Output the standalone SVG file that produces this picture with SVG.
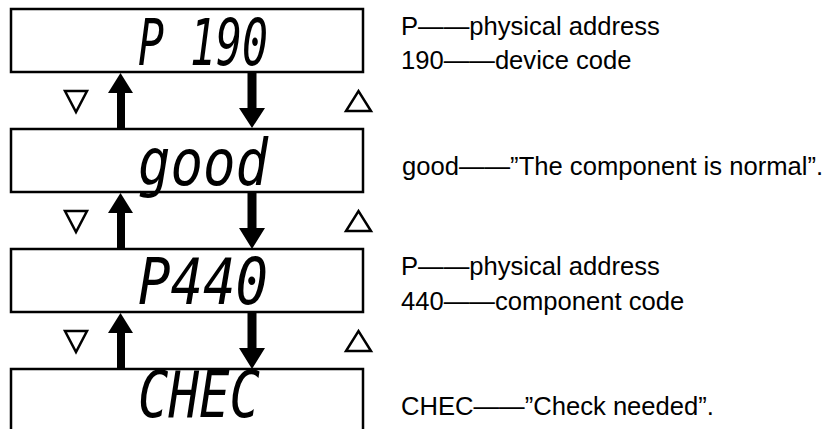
<svg xmlns="http://www.w3.org/2000/svg" width="833" height="429" viewBox="0 0 833 429">
<defs>
<style>
.box{fill:#fff;stroke:#000;stroke-width:2.5}
.seg{font-family:"DejaVu Sans Mono",monospace;font-style:oblique;font-size:64px;fill:#000}
.lbl{font-family:"Liberation Sans",Arial,sans-serif;font-size:25.6px;fill:#000}
.tri{fill:none;stroke:#000;stroke-width:2.5;stroke-linejoin:miter}
.arr{fill:#000;stroke:none}
</style>
</defs>
<rect width="833" height="429" fill="#fff"/>
<g id="node-p190">
<rect class="box" x="11" y="9" width="352" height="63"/>
<text class="seg" x="138" y="65" textLength="130" lengthAdjust="spacingAndGlyphs">P 190</text>
<text class="lbl" x="401" y="35">P——physical address</text>
<text class="lbl" x="401" y="69">190——device code</text>
</g>
<g id="node-good">
<rect class="box" x="11" y="129" width="352" height="63"/>
<text class="seg" x="138" y="185" textLength="130" lengthAdjust="spacingAndGlyphs">good</text>
<text class="lbl" x="402" y="175">good——”The component is normal”.</text>
</g>
<g id="node-p440">
<rect class="box" x="11" y="249" width="352" height="63"/>
<text class="seg" x="138" y="304" textLength="130" lengthAdjust="spacingAndGlyphs">P440</text>
<text class="lbl" x="401" y="275">P——physical address</text>
<text class="lbl" x="401" y="310">440——component code</text>
</g>
<g id="node-chec">
<rect class="box" x="11" y="369" width="352" height="80"/>
<text class="seg" x="138" y="416.5" font-size="52" textLength="122" lengthAdjust="spacingAndGlyphs">CHEC</text>
<text class="lbl" x="401" y="415">CHEC——”Check needed”.</text>
</g>
<g id="connectors">
<g>
<path class="arr" d="M117 128V93H108L120.5 73L133 93H125V128Z"/>
<path class="arr" d="M247.5 72V108H239L252 128L265 108H256.5V72Z"/>
<polygon class="tri" points="65,91 87,91 76,112"/>
<polygon class="tri" points="346,111 371,111 358.5,91"/>
</g>
<g transform="translate(0,120)">
<path class="arr" d="M117 129V93H108L120.5 73L133 93H125V129Z"/>
<path class="arr" d="M247.5 72V108H239L252 129L265 108H256.5V72Z"/>
<polygon class="tri" points="65,91 87,91 76,112"/>
<polygon class="tri" points="346,111 371,111 358.5,91"/>
</g>
<g transform="translate(0,240)">
<path class="arr" d="M117 129V93H108L120.5 73L133 93H125V129Z"/>
<path class="arr" d="M247.5 72V108H239L252 129L265 108H256.5V72Z"/>
<polygon class="tri" points="65,91 87,91 76,112"/>
<polygon class="tri" points="346,111 371,111 358.5,91"/>
</g>
</g>
</svg>
